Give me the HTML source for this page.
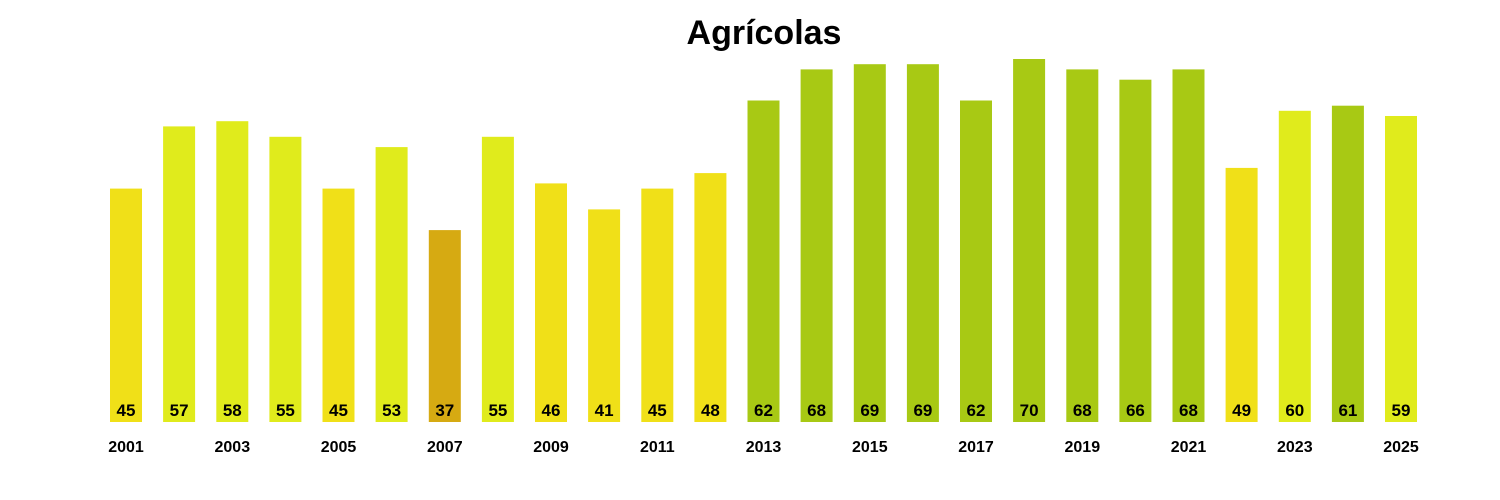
<!DOCTYPE html>
<html><head><meta charset="utf-8"><style>
html,body{margin:0;padding:0;background:#fff;}
svg{display:block;font-family:"Liberation Sans",Arial,sans-serif;}
</style></head><body>
<svg width="1500" height="500" viewBox="0 0 1500 500" xmlns="http://www.w3.org/2000/svg">
<text x="764" y="44" text-anchor="middle" font-size="34" font-weight="bold" fill="#000">Agrícolas</text>
<g>
<rect x="110" y="188.6" width="32" height="233.4" fill="#f0e018"/>
<rect x="163.1" y="126.4" width="32" height="295.6" fill="#e0eb1c"/>
<rect x="216.3" y="121.2" width="32" height="300.8" fill="#e0eb1c"/>
<rect x="269.4" y="136.8" width="32" height="285.2" fill="#e0eb1c"/>
<rect x="322.5" y="188.6" width="32" height="233.4" fill="#f0e018"/>
<rect x="375.6" y="147.1" width="32" height="274.9" fill="#e0eb1c"/>
<rect x="428.8" y="230.1" width="32" height="191.9" fill="#d6aa12"/>
<rect x="481.9" y="136.8" width="32" height="285.2" fill="#e0eb1c"/>
<rect x="535" y="183.4" width="32" height="238.6" fill="#f0e018"/>
<rect x="588.1" y="209.4" width="32" height="212.6" fill="#f0e018"/>
<rect x="641.3" y="188.6" width="32" height="233.4" fill="#f0e018"/>
<rect x="694.4" y="173.1" width="32" height="248.9" fill="#f0e018"/>
<rect x="747.5" y="100.5" width="32" height="321.5" fill="#a8c914"/>
<rect x="800.6" y="69.4" width="32" height="352.6" fill="#a8c914"/>
<rect x="853.8" y="64.2" width="32" height="357.8" fill="#a8c914"/>
<rect x="906.9" y="64.2" width="32" height="357.8" fill="#a8c914"/>
<rect x="960" y="100.5" width="32" height="321.5" fill="#a8c914"/>
<rect x="1013.1" y="59" width="32" height="363" fill="#a8c914"/>
<rect x="1066.3" y="69.4" width="32" height="352.6" fill="#a8c914"/>
<rect x="1119.4" y="79.7" width="32" height="342.3" fill="#a8c914"/>
<rect x="1172.5" y="69.4" width="32" height="352.6" fill="#a8c914"/>
<rect x="1225.6" y="167.9" width="32" height="254.1" fill="#f0e018"/>
<rect x="1278.8" y="110.8" width="32" height="311.2" fill="#e0eb1c"/>
<rect x="1331.9" y="105.7" width="32" height="316.3" fill="#a8c914"/>
<rect x="1385" y="116" width="32" height="306" fill="#e0eb1c"/>
</g>
<g text-anchor="middle" font-size="17" font-weight="bold" fill="#000">
<text x="126" y="416">45</text>
<text x="179.1" y="416">57</text>
<text x="232.3" y="416">58</text>
<text x="285.4" y="416">55</text>
<text x="338.5" y="416">45</text>
<text x="391.6" y="416">53</text>
<text x="444.8" y="416">37</text>
<text x="497.9" y="416">55</text>
<text x="551" y="416">46</text>
<text x="604.1" y="416">41</text>
<text x="657.3" y="416">45</text>
<text x="710.4" y="416">48</text>
<text x="763.5" y="416">62</text>
<text x="816.6" y="416">68</text>
<text x="869.8" y="416">69</text>
<text x="922.9" y="416">69</text>
<text x="976" y="416">62</text>
<text x="1029.1" y="416">70</text>
<text x="1082.3" y="416">68</text>
<text x="1135.4" y="416">66</text>
<text x="1188.5" y="416">68</text>
<text x="1241.6" y="416">49</text>
<text x="1294.8" y="416">60</text>
<text x="1347.9" y="416">61</text>
<text x="1401" y="416">59</text>
</g>
<g text-anchor="middle" font-size="16" font-weight="bold" fill="#000">
<text x="126" y="452">2001</text>
<text x="232.3" y="452">2003</text>
<text x="338.5" y="452">2005</text>
<text x="444.8" y="452">2007</text>
<text x="551" y="452">2009</text>
<text x="657.3" y="452">2011</text>
<text x="763.5" y="452">2013</text>
<text x="869.8" y="452">2015</text>
<text x="976" y="452">2017</text>
<text x="1082.3" y="452">2019</text>
<text x="1188.5" y="452">2021</text>
<text x="1294.8" y="452">2023</text>
<text x="1401" y="452">2025</text>
</g>
</svg>
</body></html>
